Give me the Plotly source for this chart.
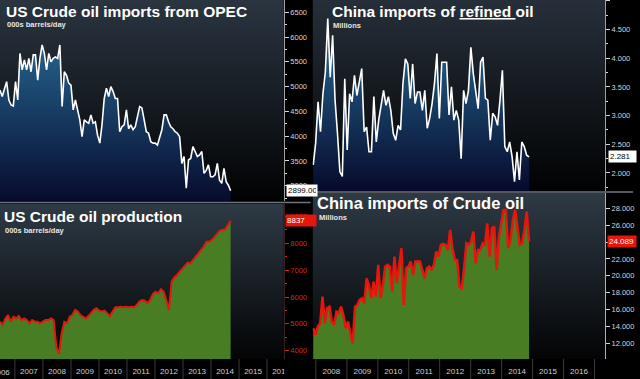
import plotly.graph_objects as go
import pandas as pd

W, H = 640, 379

# ---------------- data ----------------
opec_imports = [4930, 4800, 4950, 5100, 4730, 4630, 4610, 5100, 4730, 5670, 5340, 5540, 5340, 5570,
                5300, 5640, 5640, 5130, 5570, 5840, 5670, 5340, 5670, 5500, 5570, 5600, 5570, 5840,
                4600, 5300, 5230, 5070, 5030, 4530, 4730, 4500, 4330, 3990, 4330, 4290, 4260, 4430,
                4260, 4290, 4020, 3860, 4230, 4760, 4970, 4800, 5000, 4900, 4760, 4760, 4090, 4190,
                4230, 4530, 4150, 4230, 4130, 4190, 4430, 4600, 4570, 4360, 4090, 4060, 3890, 3860,
                3860, 3820, 3990, 4130, 4430, 4430, 4290, 4190, 4150, 4090, 4060, 3990, 3450, 3590,
                2950, 3520, 3550, 3790, 3690, 3590, 3620, 3690, 3250, 3310, 3420, 3180, 3180, 3220,
                3450, 3110, 3050, 3350, 3080, 3010, 2899]

china_refined = [2.14, 2.52, 3.24, 2.72, 3.38, 3.76, 4.69, 3.67, 4.40, 3.27, 2.69, 2.02, 1.94, 3.64,
                 2.40, 3.38, 3.24, 3.70, 3.35, 3.56, 3.82, 2.72, 2.80, 2.37, 2.37, 3.33, 2.54, 2.92,
                 3.15, 3.44, 3.18, 3.33, 3.09, 2.69, 2.57, 2.83, 2.75, 3.56, 3.99, 3.90, 3.30, 3.90,
                 3.21, 3.41, 3.41, 3.09, 3.44, 2.78, 2.95, 3.21, 3.56, 4.08, 2.95, 3.93, 3.93, 3.93,
                 3.01, 3.50, 2.92, 3.09, 2.92, 2.25, 3.44, 3.21, 3.44, 4.19, 3.73, 3.41, 3.12, 3.93,
                 4.02, 3.30, 3.27, 2.57, 3.04, 2.98, 2.83, 3.27, 3.79, 2.46, 2.37, 2.54, 2.28, 1.85,
                 2.37, 1.88, 2.54, 2.46, 2.31, 2.281]

us_production = [5080, 4960, 5200, 5330, 5080, 5270, 5200, 5290, 5140, 5200, 5140, 5020, 5140, 5080,
                 5080, 5020, 5080, 5140, 5140, 5200, 5140, 4150, 3880, 4650, 5080, 5020, 5270, 5330,
                 5520, 5460, 5330, 5270, 5200, 5290, 5390, 5520, 5580, 5490, 5460, 5490, 5390, 5290,
                 5460, 5620, 5620, 5640, 5620, 5640, 5620, 5640, 5620, 5700, 5830, 5890, 5860, 5760,
                 5890, 6110, 6200, 6140, 6290, 6200, 5890, 5520, 6570, 6730, 6820, 6940, 7070, 7190,
                 7280, 7250, 7380, 7500, 7600, 7730, 7880, 8060, 8060, 8120, 8250, 8370, 8470, 8500,
                 8520, 8680, 8837]

china_crude = [13.78, 12.99, 13.98, 14.37, 17.53, 14.37, 16.15, 16.35, 14.57, 14.18, 15.76, 15.56,
               16.35, 15.36, 13.78, 14.57, 13.19, 12.00, 16.35, 16.55, 17.14, 17.33, 16.74, 19.70,
               18.90, 17.33, 19.31, 17.53, 21.29, 17.33, 18.90, 21.09, 21.29, 21.09, 18.13, 22.27,
               19.11, 21.09, 23.26, 16.55, 20.89, 21.09, 21.68, 20.10, 21.68, 21.68, 21.68, 20.69,
               19.70, 20.89, 21.09, 20.69, 21.29, 22.87, 22.27, 23.66, 23.77, 23.66, 23.06, 25.43,
               23.26, 21.88, 21.88, 18.72, 18.52, 20.89, 23.85, 23.66, 24.05, 25.24, 21.48, 23.06,
               23.06, 23.85, 23.66, 26.22, 22.27, 25.63, 25.83, 20.69, 24.64, 26.22, 27.80, 27.80,
               23.26, 24.25, 26.62, 27.80, 25.43, 23.66, 23.85, 25.43, 27.60, 24.089]

left_data_span = ("2006-06-21", "2014-09-13")
right_data_span = ("2007-12-01", "2014-11-21")
left_xrange = ["2006-06-21", "2016-08-07"]
right_xrange = ["2007-11-23", "2017-05-05"]
left_years = list(range(2006, 2017))
right_years = list(range(2008, 2018))

titles = ["US Crude oil imports from OPEC", "China imports of <u>refined </u>oil",
          "US Crude oil production", "China imports of Crude oil"]
subtitles = ["000s barrels/day", "Millions", "000s barrels/day", "Millions"]

# ---------------- layout helpers ----------------
def px(x):
    return x / W

def py(y):
    return 1 - y / H

FONT = "Liberation Sans, Arial, sans-serif"
GREEN = "#487d24"
RED = "#e6160c"

d_left = pd.date_range(*left_data_span, periods=len(opec_imports))
d_left_prod = pd.date_range(*left_data_span, periods=len(us_production))
d_right_ref = pd.date_range(*right_data_span, periods=len(china_refined))
d_right_crude = pd.date_range(*right_data_span, periods=len(china_crude))

yr_tl = [2692, 6748]
yr_tr = [1.686, 5.014]
yr_bl = [3691, 9464]
yr_br = [10.14, 29.81]

fig = go.Figure()


def bg(xr, yr, xa, ya, top, bottom):
    fig.add_trace(go.Scatter(
        x=[xr[0], xr[1], xr[1], xr[0], xr[0]], y=[yr[0], yr[0], yr[1], yr[1], yr[0]],
        mode="none", fill="toself",
        fillgradient=dict(type="vertical", colorscale=[[0, bottom], [1, top]],
                          start=yr[0], stop=yr[1]),
        xaxis=xa, yaxis=ya, hoverinfo="skip", showlegend=False))


bg(left_xrange, yr_tl, "x", "y", "#2a3540", "#010203")
bg(right_xrange, yr_tr, "x2", "y2", "#262f39", "#010203")
bg(left_xrange, yr_bl, "x3", "y3", "#2e3a45", "#030405")
bg(right_xrange, yr_br, "x4", "y4", "#2e3a45", "#030405")

fig.add_trace(go.Scatter(
    x=d_left, y=opec_imports, mode="lines", line=dict(color="white", width=1.6),
    fill="tozeroy",
    fillgradient=dict(type="vertical", colorscale=[[0, "#070b2e"], [1, "#2c7aa6"]],
                      start=yr_tl[0], stop=yr_tl[1]),
    xaxis="x", yaxis="y", showlegend=False))

fig.add_trace(go.Scatter(
    x=d_right_ref, y=china_refined, mode="lines", line=dict(color="white", width=1.6),
    fill="tozeroy",
    fillgradient=dict(type="vertical", colorscale=[[0, "#060a2c"], [1, "#2c78a4"]],
                      start=yr_tr[0], stop=yr_tr[1]),
    xaxis="x2", yaxis="y2", showlegend=False))

fig.add_trace(go.Scatter(
    x=d_left_prod, y=us_production, mode="lines", line=dict(color=RED, width=2),
    fill="tozeroy", fillcolor=GREEN, xaxis="x3", yaxis="y3", showlegend=False))

fig.add_trace(go.Scatter(
    x=d_right_crude, y=china_crude, mode="lines", line=dict(color=RED, width=2.5),
    fill="tozeroy", fillcolor=GREEN, xaxis="x4", yaxis="y4", showlegend=False))

# ---------------- axes ----------------
dom_left = [0, px(287)]
dom_right = [px(316), px(611.7)]
dom_top_l = [py(201), 1]
dom_top_r = [py(191), 1]
dom_bot_l = [py(359), py(204)]
dom_bot_r = [py(359), py(193)]
YEARFONT = dict(family=FONT, size=8, color="#cfcfcf")


def xax(domain, rng, anchor, visible):
    d = dict(domain=domain, range=rng, type="date", anchor=anchor, showgrid=False,
             zeroline=False, fixedrange=True)
    if not visible:
        d.update(visible=False)
    else:
        d.update(dtick="M12", tick0="2006-01-01", ticklabelmode="period", tickformat="%Y",
                 ticks="", showline=False, tickfont=YEARFONT, ticklabelstandoff=6)
    return d


def yax(domain, rng, anchor, dtick, fmt, color, linecolor, minor=None):
    d = dict(domain=domain, range=rng, anchor=anchor, side="right", showgrid=False,
             zeroline=False, showline=True, linecolor=linecolor, linewidth=1,
             ticks="outside", ticklen=4, tickcolor=color, dtick=dtick, tick0=0,
             tickformat=fmt, tickfont=dict(family=FONT, size=7.5, color=color), fixedrange=True)
    if minor:
        d["minor"] = dict(dtick=minor, ticks="outside", ticklen=2, tickcolor=color)
    return d


fig.update_layout(
    xaxis=xax(dom_left, left_xrange, "y", False),
    xaxis2=xax(dom_right, right_xrange, "y2", False),
    xaxis3=xax(dom_left, left_xrange, "y3", True),
    xaxis4=xax(dom_right, right_xrange, "y4", True),
    yaxis=yax(dom_top_l, yr_tl, "x", 500, "d", "#d6d6d6", "#a0a0a0", 250),
    yaxis2=yax(dom_top_r, yr_tr, "x2", 0.5, ".3f", "#d6d6d6", "#a0a0a0", 0.25),
    yaxis3=yax(dom_bot_l, yr_bl, "x3", 1000, "d", "#d0281c", "#3a2020", 500),
    yaxis4=yax(dom_bot_r, yr_br, "x4", 2, ".3f", "#d6d6d6", "#b0b0b0"),
)

# ---------------- shapes ----------------
shapes = []
for y in left_years:
    shapes.append(dict(type="line", xref="x3", yref="paper", x0=f"{y}-01-01", x1=f"{y}-01-01",
                       y0=0, y1=py(359), line=dict(color="#3a3a3e", width=1)))
for y in right_years:
    shapes.append(dict(type="line", xref="x4", yref="paper", x0=f"{y}-01-01", x1=f"{y}-01-01",
                       y0=0, y1=py(359), line=dict(color="#3a3a3e", width=1)))
# panel separators
shapes.append(dict(type="line", xref="paper", yref="paper", x0=0, x1=px(314), y0=py(202.5),
                   y1=py(202.5), line=dict(color="#70757a", width=1.5), layer="above"))
shapes.append(dict(type="line", xref="paper", yref="paper", x0=px(313), x1=1, y0=py(192),
                   y1=py(192), line=dict(color="#70757a", width=1.5), layer="above"))
# right chart covers the end of the left date strip
shapes.append(dict(type="rect", xref="paper", yref="paper", x0=px(287.5), x1=px(315),
                   y0=0, y1=py(359.5), fillcolor="black", line=dict(width=0), layer="above"))
fig.update_layout(shapes=shapes)

# ---------------- annotations ----------------
ann = []
title_pos = [(4, 11.5, 15.5), (334, 11.5, 15.5), (2, 216, 15.5), (318, 202.5, 16.5)]
sub_pos = [(5, 24.5), (335, 25), (3, 230.5), (320, 217.5)]
for t, (x, y, s) in zip(titles, title_pos):
    ann.append(dict(text=f"<b>{t}</b>", x=px(x), y=py(y), xref="paper", yref="paper",
                    xanchor="left", yanchor="middle", showarrow=False,
                    font=dict(family=FONT, size=s, color="white")))
for t, (x, y) in zip(subtitles, sub_pos):
    ann.append(dict(text=f"<b>{t}</b>", x=px(x), y=py(y), xref="paper", yref="paper",
                    xanchor="left", yanchor="middle", showarrow=False,
                    font=dict(family=FONT, size=7.5, color="#e6e6e6")))

# first (partly hidden) year label of the left date strip
ann.append(dict(text=str(left_years[0]), x=f"{left_years[0]}-07-02", xref="x3", y=py(372),
                yref="paper", xanchor="center", yanchor="middle", showarrow=False,
                font=YEARFONT))

last_labels = [
    ("x", "y", f"{opec_imports[-1]:.2f}", "white", "black", 2, 28),
    ("x2", "y2", f"{china_refined[-1]:.3f}", "white", "black", 3, 25),
    ("x3", "y3", f"{us_production[-1]:.0f}", RED, "white", 1, 28),
    ("x4", "y4", f"{china_crude[-1]:.3f}", RED, "white", 2, 26),
]
series_by_axis = {"y": opec_imports, "y2": china_refined, "y3": us_production, "y4": china_crude}
for xa, ya, txt, bgc, fc, shift, w in last_labels:
    vals = series_by_axis[ya]
    ann.append(dict(text=txt, x=1, xref=f"{xa} domain", y=vals[-1], yref=ya,
                    xanchor="left", yanchor="middle", xshift=shift, showarrow=False,
                    bgcolor=bgc, borderpad=1, width=w, align="left",
                    font=dict(family=FONT, size=8, color=fc)))
fig.update_layout(annotations=ann)

fig.update_layout(width=W, height=H, margin=dict(l=0, r=0, t=0, b=0),
                  paper_bgcolor="black", plot_bgcolor="black", showlegend=False)

fig.write_html("out.html", config={"displayModeBar": False},
               post_script="document.body.style.margin='0';document.body.style.padding='0';"
                           "document.body.style.overflow='hidden';")
